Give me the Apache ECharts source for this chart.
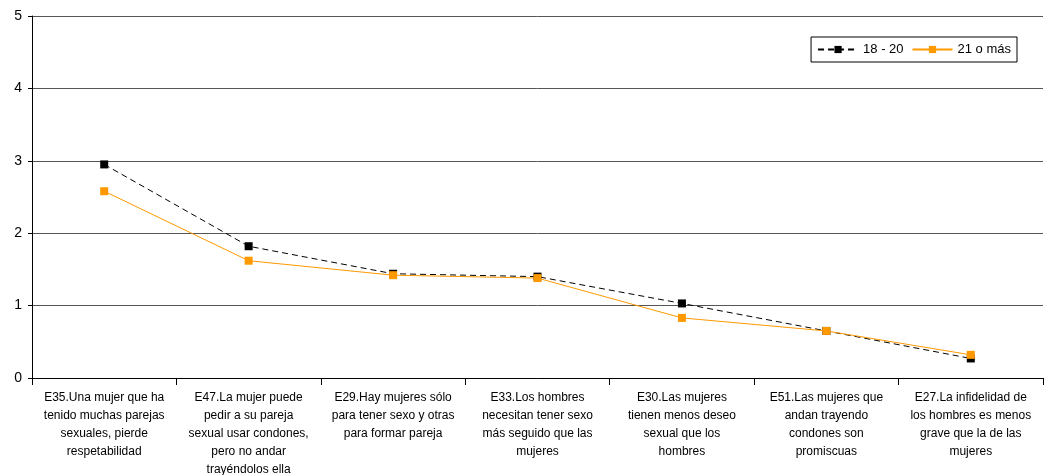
<!DOCTYPE html>
<html><head><meta charset="utf-8">
<script src="https://cdn.jsdelivr.net/npm/echarts@6/dist/echarts.min.js"></script>
<style>html,body{margin:0;padding:0;background:#fff}#c{width:1045px;height:475px}</style>
</head><body><div id="c"></div>
<script>
const categories = [
  "E35.Una mujer que ha\ntenido muchas parejas\nsexuales, pierde\nrespetabilidad",
  "E47.La mujer puede\npedir a su pareja\nsexual usar condones,\npero no andar\ntrayéndolos ella",
  "E29.Hay mujeres sólo\npara tener sexo y otras\npara formar pareja",
  "E33.Los hombres\nnecesitan tener sexo\nmás seguido que las\nmujeres",
  "E30.Las mujeres\ntienen menos deseo\nsexual que los\nhombres",
  "E51.Las mujeres que\nandan trayendo\ncondones son\npromiscuas",
  "E27.La infidelidad de\nlos hombres es menos\ngrave que la de las\nmujeres"
];
const seriesNames = ["18 - 20", "21 o más"];
const age18to20 = [2.95, 1.82, 1.44, 1.40, 1.03, 0.65, 0.27];
const age21plus = [2.58, 1.62, 1.42, 1.38, 0.83, 0.65, 0.32];
const yTicks = [0, 1, 2, 3, 4, 5];

const chart = echarts.init(document.getElementById('c'));
chart.setOption({
  animation: false,
  textStyle: { fontFamily: 'Liberation Sans, Arial, sans-serif' },
  grid: { left: 32, right: 2, top: 16, bottom: 97, containLabel: false, outerBoundsMode: 'none' },
  legend: {
    right: 28, top: 37,
    orient: 'horizontal',
    borderColor: '#000', borderWidth: 1, padding: [6, 6, 6, 6],
    backgroundColor: '#fff',
    itemWidth: 40, itemHeight: 9, itemGap: 8,
    textStyle: { fontSize: 13, color: '#000', fontFamily: 'Liberation Sans, Arial, sans-serif' },
    data: seriesNames
  },
  xAxis: {
    type: 'category', data: categories, boundaryGap: true,
    axisLine: { lineStyle: { color: '#000', width: 1 } },
    axisTick: { show: true, alignWithLabel: false, length: 7, lineStyle: { color: '#000' } },
    axisLabel: { interval: 0, fontSize: 12, color: '#000', lineHeight: 18, margin: 11, fontFamily: 'Liberation Sans, Arial, sans-serif' }
  },
  yAxis: {
    type: 'value', min: yTicks[0], max: yTicks[yTicks.length - 1], interval: 1,
    axisLine: { show: true, lineStyle: { color: '#000' } },
    axisTick: { show: true, length: 4, lineStyle: { color: '#000' } },
    axisLabel: { fontSize: 14, color: '#000', margin: 10 },
    splitLine: { show: true, lineStyle: { color: '#555', width: 1 } }
  },
  series: [
    {
      name: seriesNames[0], type: 'line', data: age18to20,
      symbol: 'rect', symbolSize: 8,
      lineStyle: { color: '#000', width: 1, type: [6, 4] },
      itemStyle: { color: '#000' },
      z: 3
    },
    {
      name: seriesNames[1], type: 'line', data: age21plus,
      symbol: 'rect', symbolSize: 8,
      lineStyle: { color: '#FF9900', width: 1 },
      itemStyle: { color: '#FF9900' },
      z: 4
    }
  ]
});
</script></body></html>
